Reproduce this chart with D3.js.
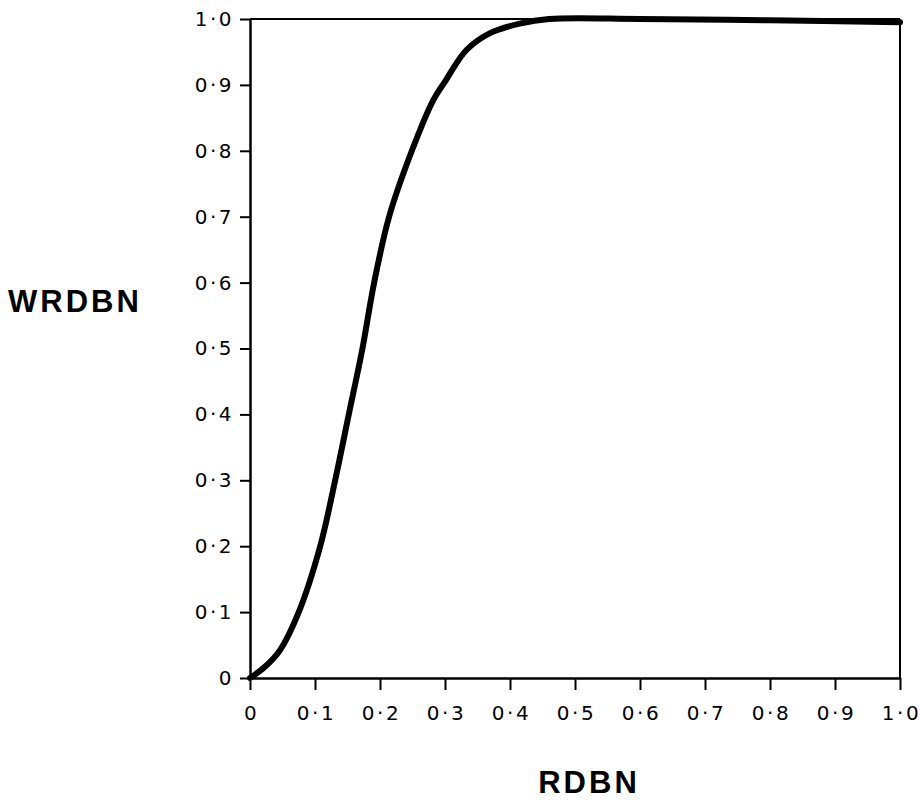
<!DOCTYPE html>
<html>
<head>
<meta charset="utf-8">
<script src="https://cdn.jsdelivr.net/npm/d3@7"></script>
<style>
  body { margin: 0; background: #fff; }
  svg { display: block; }
</style>
</head>
<body>
<div id="chart"></div>
<script>
// values
const rdbn = [0, 0.023, 0.046, 0.075, 0.108, 0.131, 0.152, 0.173, 0.191, 0.214, 0.249, 0.282, 0.30, 0.333, 0.37, 0.415, 0.46, 0.6, 0.8, 1.0];
const wrdbn = [0, 0.017, 0.042, 0.1, 0.2, 0.3, 0.4, 0.5, 0.6, 0.7, 0.8, 0.877, 0.905, 0.953, 0.979, 0.993, 1.0, 1.0, 0.998, 0.995];
const tickValues = [0, 0.1, 0.2, 0.3, 0.4, 0.5, 0.6, 0.7, 0.8, 0.9, 1.0];

const width = 920;
const height = 803;
const margin = { top: 19, right: 20, bottom: 125, left: 250 };
const w = width - margin.left - margin.right;
const h = height - margin.top - margin.bottom;
const tickFont = "'DejaVu Sans', sans-serif";
const titleFont = "'Liberation Sans', Arial, sans-serif";

const fmt = d => d === 0 ? "0" : d3.format(".1f")(d).replace(".", "·");

const svg = d3.select("#chart")
  .append("svg")
  .attr("width", width)
  .attr("height", height)
  .append("g")
  .attr("transform", `translate(${margin.left},${margin.top})`);

const x = d3.scaleLinear().domain([0, 1]).range([0, w]);
const y = d3.scaleLinear().domain([0, 1]).range([h, 0]);

// frame top + right
svg.append("line")
  .attr("x1", x(0)).attr("x2", x(1))
  .attr("y1", y(1)).attr("y2", y(1))
  .attr("stroke", "#000").attr("stroke-width", 2);
svg.append("line")
  .attr("x1", x(1)).attr("x2", x(1))
  .attr("y1", y(1)).attr("y2", y(0))
  .attr("stroke", "#000").attr("stroke-width", 2);

const xAxis = svg.append("g")
  .attr("transform", `translate(0,${h})`)
  .call(d3.axisBottom(x).tickValues(tickValues).tickFormat(fmt).tickSize(12).tickSizeOuter(0).tickPadding(16));

const yAxis = svg.append("g")
  .call(d3.axisLeft(y).tickValues(tickValues).tickFormat(fmt).tickSize(10).tickSizeOuter(0).tickPadding(6));

[xAxis, yAxis].forEach(g => {
  g.select(".domain").attr("stroke-width", 2.5);
  g.selectAll(".tick line").attr("stroke-width", 2);
  g.selectAll(".tick text")
    .style("font-family", tickFont)
    .style("font-size", "20px")
    .style("letter-spacing", "2.5px")
    .attr("fill", "#000");
});
xAxis.selectAll(".tick text").attr("dx", "1px");

const line = d3.line()
  .x((d, i) => x(rdbn[i]))
  .y(d => y(d))
  .curve(d3.curveCatmullRom.alpha(0.5));

svg.append("path")
  .datum(wrdbn)
  .attr("fill", "none")
  .attr("stroke", "#000")
  .attr("stroke-width", 6)
  .attr("stroke-linecap", "round")
  .attr("d", line);

svg.append("text")
  .attr("x", 8 - margin.left)
  .attr("y", 312 - margin.top)
  .style("font-family", titleFont)
  .style("font-size", "31px")
  .style("font-weight", "bold")
  .style("letter-spacing", "3px")
  .text("WRDBN");

svg.append("text")
  .attr("x", 589 - margin.left)
  .attr("y", 793 - margin.top)
  .attr("text-anchor", "middle")
  .style("font-family", titleFont)
  .style("font-size", "31px")
  .style("font-weight", "bold")
  .style("letter-spacing", "3px")
  .text("RDBN");
</script>
</body>
</html>
